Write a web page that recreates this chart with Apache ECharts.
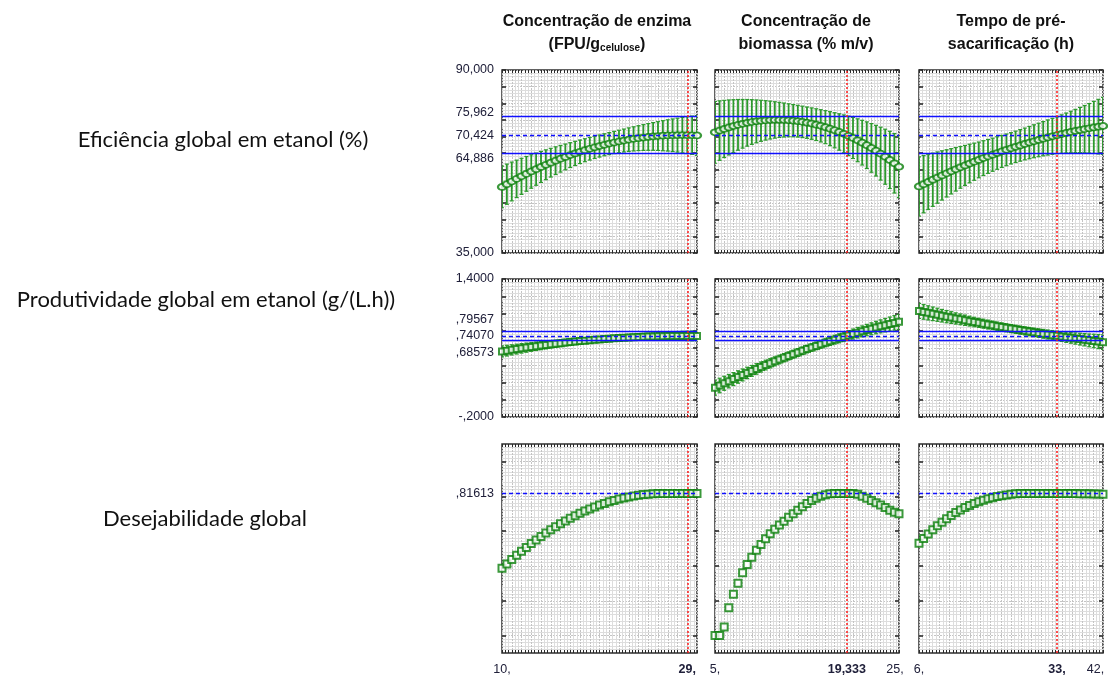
<!DOCTYPE html>
<html><head><meta charset="utf-8">
<script src="https://cdn.jsdelivr.net/npm/echarts@6/dist/echarts.min.js"></script>
<style>html,body{margin:0;padding:0;background:#fff}#c{width:1108px;height:677px}</style>
</head><body><div id="c"></div>
<script>
// ---------------- DATA ----------------
const colTitles = [['Concentração de enzima', '(FPU/g{sub|celulose})'], ['Concentração de', 'biomassa (% m/v)'], ['Tempo de pré-', 'sacarificação (h)']];
const rowTitles = ['Eficiência global em etanol (%)', 'Produtividade global em etanol (g/(L.h))', 'Desejabilidade global'];

const xEnzima = [10,10.5,11,11.5,12,12.5,13,13.5,14,14.5,15,15.5,16,16.5,17,17.5,18,18.5,19,19.5,20,20.5,21,21.5,22,22.5,23,23.5,24,24.5,25,25.5,26,26.5,27,27.5,28,28.5,29,29.5,30];
const xBiomassa = [5,5.5,6,6.5,7,7.5,8,8.5,9,9.5,10,10.5,11,11.5,12,12.5,13,13.5,14,14.5,15,15.5,16,16.5,17,17.5,18,18.5,19,19.5,20,20.5,21,21.5,22,22.5,23,23.5,24,24.5,25];
const xTempo = [6,6.9,7.8,8.7,9.6,10.5,11.4,12.3,13.2,14.1,15,15.9,16.8,17.7,18.6,19.5,20.4,21.3,22.2,23.1,24,24.9,25.8,26.7,27.6,28.5,29.4,30.3,31.2,32.1,33,33.9,34.8,35.7,36.6,37.5,38.4,39.3,40.2,41.1,42];

// Eficiência global em etanol (%): predicted value and confidence half-width
const efEnzimaMean = [54.85,55.68,56.49,57.28,58.04,58.78,59.50,60.20,60.87,61.52,62.14,62.75,63.33,63.88,64.42,64.93,65.42,65.89,66.33,66.75,67.15,67.53,67.88,68.21,68.52,68.80,69.07,69.30,69.52,69.71,69.88,70.03,70.15,70.25,70.33,70.39,70.42,70.43,70.42,70.39,70.33];
const efEnzimaCI = [6.25,6.04,5.83,5.62,5.42,5.22,5.03,4.84,4.66,4.48,4.32,4.16,4.01,3.87,3.74,3.63,3.53,3.45,3.39,3.34,3.31,3.30,3.31,3.34,3.39,3.45,3.53,3.63,3.74,3.87,4.01,4.16,4.32,4.52,4.70,4.90,5.10,5.32,5.54,5.76,5.98];
const efBiomassaMean = [71.26,71.79,72.28,72.73,73.14,73.51,73.83,74.12,74.37,74.57,74.74,74.86,74.95,74.99,75.00,74.96,74.88,74.77,74.61,74.41,74.17,73.89,73.57,73.22,72.82,72.37,71.89,71.37,70.81,70.21,69.57,68.88,68.16,67.40,66.59,65.75,64.86,63.94,62.97,61.97,60.92];
const efBiomassaCI = [9.28,8.94,8.60,8.27,7.94,7.62,7.31,7.01,6.72,6.44,6.17,5.92,5.69,5.47,5.28,5.11,4.96,4.85,4.77,4.72,4.70,4.72,4.77,4.85,4.96,5.11,5.28,5.47,5.69,5.92,6.17,6.44,6.72,7.01,7.31,7.62,7.94,8.27,8.60,8.94,9.28];
const efTempoMean = [55.00,55.69,56.36,57.02,57.67,58.31,58.93,59.55,60.15,60.74,61.32,61.89,62.44,62.98,63.52,64.04,64.54,65.04,65.52,66.00,66.46,66.91,67.34,67.77,68.18,68.58,68.97,69.35,69.72,70.07,70.41,70.75,71.07,71.37,71.67,71.96,72.23,72.49,72.74,72.97,73.20];
const efTempoCI = [8.90,8.60,8.30,8.00,7.70,7.40,7.10,6.81,6.54,6.27,6.00,5.79,5.58,5.37,5.22,5.10,4.98,4.88,4.82,4.76,4.70,4.71,4.74,4.77,4.86,4.95,5.04,5.14,5.28,5.41,5.54,5.77,6.00,6.22,6.50,6.80,7.10,7.43,7.82,8.21,8.60];

// Produtividade global em etanol (g/(L.h))
const prEnzimaMean = [0.5600,0.5694,0.5785,0.5874,0.5960,0.6044,0.6125,0.6204,0.6280,0.6354,0.6425,0.6494,0.6560,0.6624,0.6685,0.6744,0.6800,0.6854,0.6905,0.6954,0.7000,0.7044,0.7085,0.7124,0.7160,0.7194,0.7225,0.7254,0.7280,0.7304,0.7325,0.7344,0.7360,0.7374,0.7385,0.7394,0.7400,0.7404,0.7405,0.7404,0.7400];
const prEnzimaCI = [0.064,0.062,0.059,0.057,0.055,0.053,0.051,0.049,0.048,0.046,0.044,0.042,0.041,0.039,0.038,0.037,0.036,0.035,0.035,0.034,0.034,0.034,0.034,0.034,0.035,0.035,0.036,0.037,0.038,0.039,0.041,0.042,0.044,0.046,0.048,0.049,0.051,0.053,0.055,0.057,0.059];
const prBiomassaMean = [0.1400,0.1654,0.1905,0.2153,0.2398,0.2639,0.2877,0.3112,0.3344,0.3572,0.3797,0.4019,0.4238,0.4453,0.4665,0.4874,0.5080,0.5282,0.5481,0.5677,0.5870,0.6059,0.6245,0.6428,0.6608,0.6784,0.6957,0.7127,0.7294,0.7457,0.7617,0.7774,0.7928,0.8078,0.8225,0.8369,0.8510,0.8647,0.8781,0.8912,0.9040];
const prBiomassaCI = [0.087,0.084,0.081,0.078,0.075,0.072,0.069,0.066,0.063,0.061,0.058,0.056,0.054,0.052,0.050,0.048,0.047,0.046,0.045,0.044,0.044,0.044,0.045,0.046,0.047,0.048,0.050,0.052,0.054,0.056,0.058,0.061,0.063,0.066,0.069,0.072,0.075,0.078,0.081,0.084,0.087];
const prTempoMean = [1.0300,1.0186,1.0074,0.9963,0.9853,0.9744,0.9636,0.9529,0.9424,0.9320,0.9217,0.9115,0.9015,0.8915,0.8817,0.8720,0.8624,0.8529,0.8436,0.8344,0.8253,0.8163,0.8074,0.7986,0.7900,0.7815,0.7731,0.7648,0.7566,0.7486,0.7407,0.7329,0.7252,0.7176,0.7102,0.7029,0.6957,0.6886,0.6816,0.6747,0.6680];
const prTempoCI = [0.088,0.085,0.082,0.079,0.076,0.073,0.071,0.068,0.065,0.062,0.060,0.057,0.055,0.053,0.052,0.051,0.049,0.048,0.048,0.047,0.047,0.047,0.047,0.047,0.048,0.049,0.050,0.051,0.052,0.054,0.055,0.057,0.060,0.062,0.065,0.068,0.071,0.074,0.078,0.082,0.085];

// Desejabilidade global
const desEnzima = [0.3860,0.4117,0.4365,0.4606,0.4839,0.5064,0.5281,0.5490,0.5692,0.5885,0.6071,0.6248,0.6418,0.6580,0.6734,0.6880,0.7018,0.7148,0.7270,0.7385,0.7491,0.7590,0.7681,0.7763,0.7838,0.7905,0.7964,0.8016,0.8059,0.8094,0.8122,0.8141,0.8153,0.8157,0.8161,0.8161,0.8161,0.8161,0.8161,0.8161,0.8161];
const desBiomassa = [0,0,0.050,0.160,0.237,0.300,0.361,0.408,0.450,0.490,0.523,0.556,0.585,0.610,0.635,0.657,0.680,0.699,0.719,0.739,0.759,0.776,0.789,0.800,0.808,0.814,0.8160,0.8161,0.8161,0.8161,0.8155,0.8120,0.800,0.788,0.776,0.763,0.750,0.735,0.720,0.708,0.700];
const desTempo = [0.530,0.557,0.583,0.607,0.630,0.651,0.671,0.689,0.706,0.721,0.735,0.747,0.758,0.768,0.777,0.785,0.792,0.798,0.803,0.807,0.811,0.814,0.8155,0.8161,0.8161,0.8161,0.8161,0.8161,0.8161,0.8161,0.8161,0.8160,0.8158,0.8155,0.8152,0.8148,0.8143,0.8138,0.8132,0.8126,0.8120];

// Reference values at the optimum
const optimumX = [29, 19.333, 33];
const efLimits = [64.886, 75.962], efPred = 70.424;
const prLimits = [0.68573, 0.79567], prPred = 0.74070;
const desPred = 0.81613;

// Tick labels
const efLabelVals = [35, 64.886, 70.424, 75.962, 90];
const efLabelTexts = ['35,000', '64,886', '70,424', '75,962', '90,000'];
const prLabelVals = [-0.2, 0.68573, 0.74070, 0.79567, 1.4];
const prLabelTexts = ['-,2000', ',68573', ',74070', ',79567', '1,4000'];
const desLabelVals = [0.81613];
const desLabelTexts = [',81613'];
const xLabelVals = [[10, 29], [5, 19.333, 25], [6, 33, 42]];
const xLabelTexts = [['10,', '29,'], ['5,', '19,333', '25,'], ['6,', '33,', '42,']];

// ---------------- LAYOUT / STYLE ----------------
const FONT = '"Liberation Sans", Arial, sans-serif';
const GREEN = '#0a800a', BAR = '#2c9a2c', BLUE = '#1010ff', RED = '#ff1a1a';

const colDefs = [
  {x: xEnzima, min: 10, max: 30, interval: 1, left: 502, width: 195, xShift: [0, 0]},
  {x: xBiomassa, min: 5, max: 25, interval: 1, left: 715, width: 184, xShift: [0, 0, 8]},
  {x: xTempo, min: 6, max: 42, interval: 2, left: 919, width: 184, xShift: [0, 0, 15]}
];
const rowDefs = [
  {top: 70, height: 183, min: 35, max: 90, interval: 5, symbol: 'emptyCircle', size: [8, 6],
   means: [efEnzimaMean, efBiomassaMean, efTempoMean], cis: [efEnzimaCI, efBiomassaCI, efTempoCI],
   limits: efLimits, pred: efPred, labelVals: efLabelVals, labelTexts: efLabelTexts, labelShift: [0, 5, 0, -4, 0]},
  {top: 279, height: 138, min: -0.2, max: 1.4, interval: 0.2, symbol: 'emptyRect', size: 6,
   means: [prEnzimaMean, prBiomassaMean, prTempoMean], cis: [prEnzimaCI, prBiomassaCI, prTempoCI],
   limits: prLimits, pred: prPred, labelVals: prLabelVals, labelTexts: prLabelTexts, labelShift: [0, 12, 0, -12, 0]},
  {top: 444, height: 209, min: -0.1, max: 1.1, interval: 0.1, symbol: 'emptyRect', size: 7, tickVals: [0, 0.2, 0.4, 0.6, 0.8, 1.0],
   means: [desEnzima, desBiomassa, desTempo], cis: null,
   limits: null, pred: desPred, labelVals: desLabelVals, labelTexts: desLabelTexts, labelShift: [0]}
];

function idxOf(arr, v) { return arr.findIndex(a => Math.abs(a - v) < 1e-9); }

function yLabel(R) {
  const rich = {};
  R.labelShift.forEach((s, i) => {
    rich['s' + i] = {fontSize: 12.5, fontFamily: FONT, color: '#20203a',
      padding: s > 0 ? [2 * s, 0, 0, 0] : (s < 0 ? [0, 0, -2 * s, 0] : [0, 0, 0, 0])};
  });
  return {show: true, customValues: R.labelVals, margin: 8, showMinLabel: true, showMaxLabel: true,
    fontSize: 12.5, fontFamily: FONT, color: '#20203a',
    formatter: v => { const i = idxOf(R.labelVals, v); return i < 0 ? '' : '{s' + i + '|' + R.labelTexts[i] + '}'; },
    rich};
}
function xLabel(c) {
  const vals = xLabelVals[c], texts = xLabelTexts[c], sh = colDefs[c].xShift;
  const rich = {};
  vals.forEach((v, i) => {
    rich['t' + i] = {fontSize: 12.5, fontFamily: FONT, color: '#20203a',
      fontWeight: Math.abs(v - optimumX[c]) < 1e-9 ? 'bold' : 'normal', padding: [0, sh[i] || 0, 0, 0]};
  });
  return {show: true, customValues: vals, margin: 10, showMinLabel: true, showMaxLabel: true,
    fontSize: 12.5, fontFamily: FONT,
    formatter: v => { const i = idxOf(vals, v); return i < 0 ? '' : '{t' + i + '|' + texts[i] + '}'; }, rich};
}

function errRender(params, api) {
  const x = api.value(0), lo = api.value(1), hi = api.value(2);
  const p1 = api.coord([x, lo]), p2 = api.coord([x, hi]);
  const cap = 2;
  const style = {stroke: BAR, lineWidth: 1.8};
  return {type: 'group', children: [
    {type: 'line', shape: {x1: p1[0], y1: p1[1], x2: p2[0], y2: p2[1]}, style},
    {type: 'line', shape: {x1: p1[0] - cap, y1: p1[1], x2: p1[0] + cap, y2: p1[1]}, style: {stroke: BAR, lineWidth: 1.2}},
    {type: 'line', shape: {x1: p2[0] - cap, y1: p2[1], x2: p2[0] + cap, y2: p2[1]}, style: {stroke: BAR, lineWidth: 1.2}}
  ]};
}

const grids = [], xAxes = [], yAxes = [], series = [];
const tickStyle = {color: '#2a2a2a', width: 1};
rowDefs.forEach((R, r) => colDefs.forEach((C, c) => {
  const g = grids.length;
  grids.push({left: C.left, top: R.top, width: C.width, height: R.height, show: true,
    borderColor: '#2e2e2e', borderWidth: 1.5, backgroundColor: '#fff'});
  const xBase = {type: 'value', gridIndex: g, min: C.min, max: C.max, interval: C.interval,
    axisLine: {show: false, onZero: false},
    axisTick: {show: true, inside: true, length: 3, lineStyle: tickStyle},
    minorTick: {show: true, splitNumber: 3, length: 3, lineStyle: tickStyle}};
  xAxes.push(Object.assign({}, xBase, {position: 'bottom',
    splitLine: {show: true, lineStyle: {color: '#c4c4c4', width: 1, type: [2, 1]}},
    minorSplitLine: {show: true, lineStyle: {color: '#dddddd', width: 1}},
    axisLabel: r === 2 ? xLabel(c) : {show: false}}));
  xAxes.push(Object.assign({}, xBase, {position: 'top', splitLine: {show: false}, axisLabel: {show: false}}));
  const yTick = {show: true, inside: true, length: 4, lineStyle: {color: '#2a2a2a', width: 1.6}};
  if (R.tickVals) yTick.customValues = R.tickVals;
  const yBase = {type: 'value', gridIndex: g, min: R.min, max: R.max, interval: R.interval,
    axisLine: {show: false, onZero: false}, axisTick: yTick, minorTick: {show: false, splitNumber: 5}};
  yAxes.push(Object.assign({}, yBase, {position: 'left',
    splitLine: {show: true, lineStyle: {color: '#c4c4c4', width: 1, type: [2, 1]}},
    minorSplitLine: {show: true, lineStyle: {color: '#dddddd', width: 1}},
    axisLabel: c === 0 ? yLabel(R) : {show: false}}));
  yAxes.push(Object.assign({}, yBase, {position: 'right', splitLine: {show: false}, axisLabel: {show: false}}));

  const xi = 2 * g, yi = 2 * g;
  const means = R.means[c];
  if (R.cis) {
    const ci = R.cis[c];
    series.push({type: 'custom', xAxisIndex: xi, yAxisIndex: yi, clip: true, z: 2, silent: true,
      renderItem: errRender, encode: {x: 0, y: [1, 2]},
      data: C.x.map((x, i) => [x, means[i] - ci[i], means[i] + ci[i]])});
  }
  const ml = [];
  if (R.limits) R.limits.forEach(v => ml.push({yAxis: v, lineStyle: {color: BLUE, type: 'solid', width: 1.3}}));
  ml.push({yAxis: R.pred, lineStyle: {color: BLUE, type: [4, 3], width: 1.3}});
  series.push({type: 'scatter', xAxisIndex: xi, yAxisIndex: yi, z: 3, silent: true, data: [],
    markLine: {silent: true, symbol: ['none', 'none'], label: {show: false}, animation: false, data: ml}});
  series.push({type: 'scatter', xAxisIndex: xi, yAxisIndex: yi, z: 4, silent: true,
    symbol: R.symbol, symbolSize: R.size,
    itemStyle: {color: GREEN, borderColor: GREEN, borderWidth: 1},
    data: C.x.map((x, i) => [x, means[i]])});
  series.push({type: 'scatter', xAxisIndex: xi, yAxisIndex: yi, z: 5, silent: true, data: [],
    itemStyle: {color: RED},
    markLine: {silent: true, symbol: ['none', 'none'], label: {show: false}, animation: false,
      lineStyle: {color: RED, type: [2, 2], width: 1.5},
      data: [{xAxis: optimumX[c], lineStyle: {color: RED, type: [2, 2], width: 1.5}}]}});
}));

const graphic = [];
const colCenters = [597, 806, 1011];
colTitles.forEach((t, c) => {
  graphic.push({type: 'text', x: colCenters[c], y: 22, style: {text: t[0], fontSize: 16, fontWeight: 'bold', fontFamily: FONT,
    fill: '#111', align: 'center', verticalAlign: 'middle', textAlign: 'center', textVerticalAlign: 'middle'}});
  graphic.push({type: 'text', x: colCenters[c], y: 45, style: {text: t[1], fontSize: 16, fontWeight: 'bold', fontFamily: FONT,
    fill: '#111', align: 'center', verticalAlign: 'middle', textAlign: 'center', textVerticalAlign: 'middle',
    rich: {sub: {fontSize: 10, fontWeight: 'bold', fontFamily: FONT, fill: '#111', verticalAlign: 'bottom'}}}});
});
const rowCenters = [[223, 140], [206, 300], [205, 519]];
rowTitles.forEach((t, r) => {
  graphic.push({type: 'text', x: rowCenters[r][0], y: rowCenters[r][1], style: {text: t, fontSize: 22, fontFamily: 'Lato, "Open Sans", sans-serif',
    fill: '#111', align: 'center', verticalAlign: 'middle', textAlign: 'center', textVerticalAlign: 'middle'}});
});

const chart = echarts.init(document.getElementById('c'), null, {renderer: 'canvas'});
chart.setOption({animation: false, backgroundColor: '#fff', grid: grids, xAxis: xAxes, yAxis: yAxes, series, graphic});
</script></body></html>
